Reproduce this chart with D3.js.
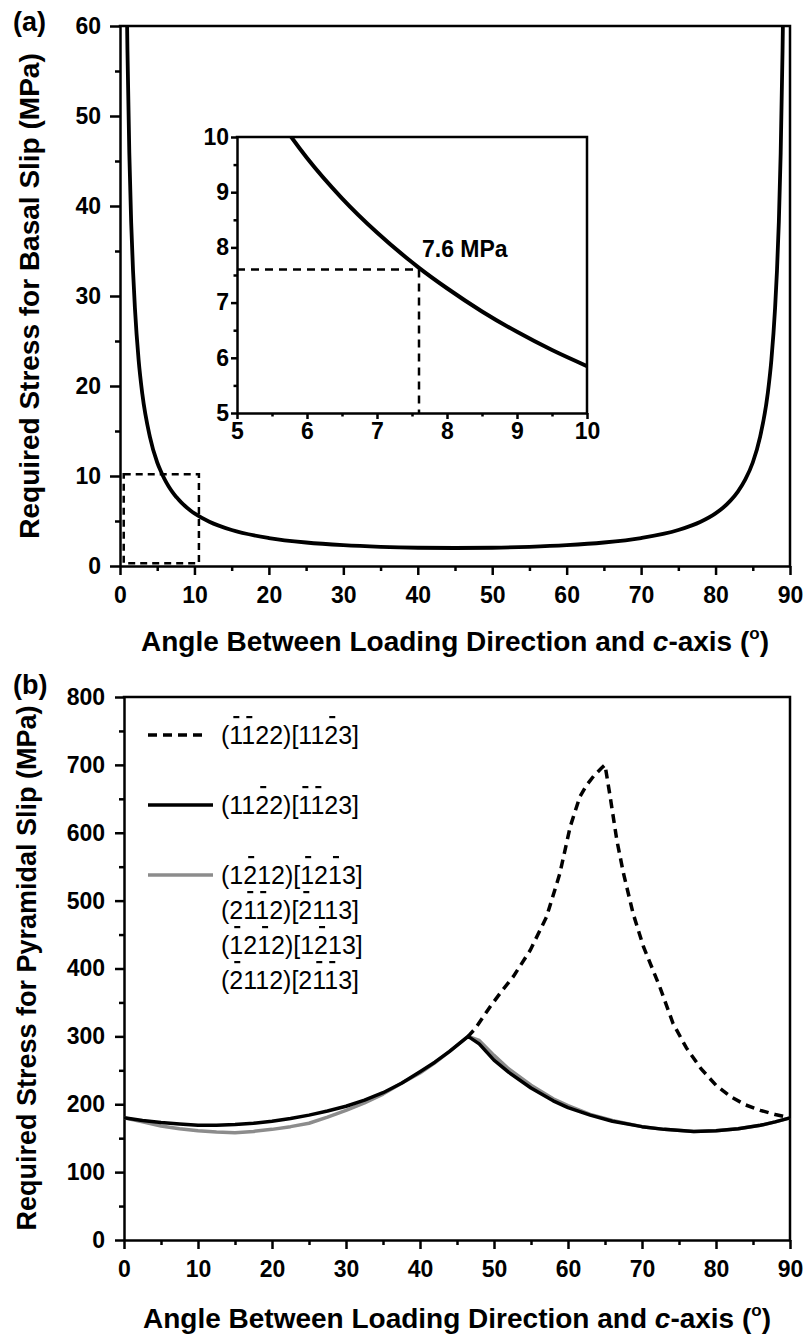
<!DOCTYPE html>
<html><head><meta charset="utf-8">
<script src="https://cdn.jsdelivr.net/npm/d3@7"></script>
<style>
body{margin:0;background:#fff}
svg{display:block;font-family:"Liberation Sans",Arial,Helvetica,sans-serif}
</style></head><body>
<svg id="c" width="806" height="1335"></svg>
<script>
// ---------- data: panel (a) basal slip ----------
const basalAngle = [0.95,1,1.25,1.5,1.75,2,2.5,3,4,5,5.5,6,6.5,7,7.5,7.6,8,8.5,9,9.5,10,12,15,20,25,30,35,40,45,50,55,60,65,70,75,78,80,81,82,83,84,85,86,87,87.5,88,88.25,88.5,88.75,89,89.05];
const basalStress = [60.3,57.3,45.9,38.2,32.8,28.7,22.9,19.1,14.4,11.5,10.5,9.62,8.89,8.27,7.73,7.63,7.26,6.84,6.47,6.14,5.85,4.92,4.00,3.11,2.61,2.31,2.13,2.03,2.00,2.03,2.13,2.31,2.61,3.11,4.00,4.92,5.85,6.47,7.26,8.27,9.62,11.5,14.4,19.1,22.9,28.7,32.8,38.2,45.9,57.3,60.3];
const xTicksA = [0,10,20,30,40,50,60,70,80,90];
const yTicksA = [0,10,20,30,40,50,60];
const insetTicks = [5,6,7,8,9,10];
const markAngle = 7.6, markStress = 7.6;
const markLabel = "7.6 MPa";
const zoomBoxX = [0.5, 10.6], zoomBoxY = [0.3, 10.2];

// ---------- data: panel (b) pyramidal slip ----------
const pyrAngle = [0,2.5,5,7.5,10,12.5,15,17.5,20,22.5,25,27.5,30,32.5,35,37.5,40,42,44,46.5,48,50,52,55,58,60,63,66,70,73,77,80,83,86,88,90];
const pyrBlack = [180,176,173,171,169,169,170,172,175,179,184,190,197,206,217,231,248,262,278,300,289,265,247,224,205,195,184,175,167,163,160,161,164,169,174,180];
const pyrGray  = [180,174,168,164,161,159,158,160,163,167,172,181,191,202,215,231,246,261,278,300,294,272,252,228,208,198,185,176,167,163,160,161,164,169,174,180];
const pyrDashAngle = [46.5,47.5,49.5,51,52.6,54.9,57.1,58.9,60.3,61.6,62.5,63.5,64.5,65,65.7,66.6,67.5,68.8,70.2,72.4,74.2,76,78,80,82,84,86,88,90];
const pyrDash = [300,312,344,366,388,427,476,540,609,653,670,684,695,700,653,589,540,481,432,373,319,283,252,228,211,199,191,185,180];
const xTicksB = [0,10,20,30,40,50,60,70,80,90];
const yTicksB = [0,100,200,300,400,500,600,700,800];
// legend: text + indices of characters carrying an overbar
const legendDash = [{t:"(1122)[1123]", bars:[1,2,9]}];
const legendBlack = [{t:"(1122)[1123]", bars:[3,7,8]}];
const legendGray = [
  {t:"(1212)[1213]", bars:[2,7,9]},
  {t:"(2112)[2113]", bars:[2,3,7]},
  {t:"(1212)[1213]", bars:[1,3,8]},
  {t:"(2112)[2113]", bars:[1,8,9]}
];

const FONT = '"Liberation Sans",Arial,Helvetica,sans-serif';
const TICKFS = 23, TITLEFS = 28;
const svg = d3.select("#c");

function styleAxis(g, fs){
  g.attr("font-family", FONT);
  g.select(".domain").attr("stroke","#000").attr("stroke-width",2.5);
  g.selectAll(".tick line").attr("stroke","#000").attr("stroke-width",2.5);
  g.selectAll(".tick text").attr("font-size",fs).attr("font-weight","bold").attr("fill","#000");
}
function minorAxis(g){
  g.select(".domain").remove();
  g.selectAll(".tick line").attr("stroke","#000").attr("stroke-width",2.5);
}
function frame(x, y){
  const [x0,x1] = x.range(), [y0,y1] = y.range();
  svg.append("path")
    .attr("d", `M${x0},${y1}H${x1}V${y0}`)
    .attr("fill","none").attr("stroke","#000").attr("stroke-width",2.5).attr("stroke-linecap","square");
}
const fmt = d3.format("d");

// ================= Panel (a) =================
const xA = d3.scaleLinear([0,90],[120,790]);
const yA = d3.scaleLinear([0,60],[566,26]);

svg.append("clipPath").attr("id","clipA").append("rect")
  .attr("x",120).attr("y",26).attr("width",670).attr("height",540);

svg.append("g").attr("transform","translate(0,566)")
  .call(d3.axisBottom(xA).tickValues(d3.range(5,90,10)).tickSize(5).tickFormat("")).call(minorAxis);
svg.append("g").attr("transform","translate(120,0)")
  .call(d3.axisLeft(yA).tickValues(d3.range(5,60,10)).tickSize(5).tickFormat("")).call(minorAxis);
svg.append("g").attr("transform","translate(0,566)")
  .call(d3.axisBottom(xA).tickValues(xTicksA).tickFormat(fmt).tickSize(9).tickPadding(12).tickSizeOuter(0)).call(styleAxis,TICKFS);
svg.append("g").attr("transform","translate(120,0)")
  .call(d3.axisLeft(yA).tickValues(yTicksA).tickFormat(fmt).tickSize(10).tickPadding(9).tickSizeOuter(0)).call(styleAxis,TICKFS);
frame(xA, yA);

const basalPts = basalAngle.map((a,i)=>[a,basalStress[i]]);
svg.append("path").datum(basalPts)
  .attr("clip-path","url(#clipA)")
  .attr("d", d3.line().x(d=>xA(d[0])).y(d=>yA(d[1])).curve(d3.curveMonotoneX))
  .attr("fill","none").attr("stroke","#000").attr("stroke-width",3.8);

// dashed zoom box
svg.append("rect")
  .attr("x",xA(zoomBoxX[0])).attr("y",yA(zoomBoxY[1]))
  .attr("width",xA(zoomBoxX[1])-xA(zoomBoxX[0])).attr("height",yA(zoomBoxY[0])-yA(zoomBoxY[1]))
  .attr("fill","none").attr("stroke","#000").attr("stroke-width",2.5).attr("stroke-dasharray","7,5");

// inset
const xI = d3.scaleLinear([5,10],[237,587]);
const yI = d3.scaleLinear([5,10],[413,137]);
svg.append("rect").attr("x",237).attr("y",137).attr("width",350).attr("height",276).attr("fill","#fff");
svg.append("clipPath").attr("id","clipI").append("rect")
  .attr("x",237).attr("y",137).attr("width",350).attr("height",276);
svg.append("g").attr("transform","translate(0,413)")
  .call(d3.axisBottom(xI).tickValues(d3.range(5.5,10,1)).tickSize(3.5).tickFormat("")).call(minorAxis);
svg.append("g").attr("transform","translate(237,0)")
  .call(d3.axisLeft(yI).tickValues(d3.range(5.5,10,1)).tickSize(3.5).tickFormat("")).call(minorAxis);
svg.append("g").attr("transform","translate(0,413)")
  .call(d3.axisBottom(xI).tickValues(insetTicks).tickFormat(fmt).tickSize(6).tickPadding(4).tickSizeOuter(0)).call(styleAxis,TICKFS);
svg.append("g").attr("transform","translate(237,0)")
  .call(d3.axisLeft(yI).tickValues(insetTicks).tickFormat(fmt).tickSize(6).tickPadding(2).tickSizeOuter(0)).call(styleAxis,TICKFS);
frame(xI, yI);
svg.append("path").datum(basalPts)
  .attr("clip-path","url(#clipI)")
  .attr("d", d3.line().x(d=>xI(d[0])).y(d=>yI(d[1])).curve(d3.curveMonotoneX))
  .attr("fill","none").attr("stroke","#000").attr("stroke-width",4);
svg.append("path")
  .attr("d",`M${xI(5)},${yI(markStress)}H${xI(markAngle)}V${yI(5)}`)
  .attr("fill","none").attr("stroke","#000").attr("stroke-width",2.5).attr("stroke-dasharray","8,6");
svg.append("text").attr("x",xI(markAngle)+3).attr("y",yI(markStress)-12)
  .attr("font-size",23).attr("font-weight","bold").text(markLabel);

// titles (a)
svg.append("text").attr("x",13).attr("y",31).attr("font-size",27).attr("font-weight","bold").text("(a)");
function xTitle(cx, y){
  const t = svg.append("text").attr("x",cx).attr("y",y).attr("text-anchor","middle")
    .attr("font-size",TITLEFS).attr("font-weight","bold");
  t.append("tspan").text("Angle Between Loading Direction and ");
  t.append("tspan").attr("font-style","italic").text("c");
  t.append("tspan").text("-axis (");
  t.append("tspan").attr("font-size",17).attr("dy",-12).text("o");
  t.append("tspan").attr("dy",12).text(")");
}
xTitle(455, 651);
svg.append("text").attr("transform",`translate(39,296) rotate(-90)`).attr("text-anchor","middle")
  .attr("font-size",TITLEFS).attr("font-weight","bold").text("Required Stress for Basal Slip (MPa)");

// ================= Panel (b) =================
const xB = d3.scaleLinear([0,90],[124,790]);
const yB = d3.scaleLinear([0,800],[1240,697]);

svg.append("g").attr("transform","translate(0,1240)")
  .call(d3.axisBottom(xB).tickValues(d3.range(5,90,10)).tickSize(5).tickFormat("")).call(minorAxis);
svg.append("g").attr("transform","translate(124,0)")
  .call(d3.axisLeft(yB).tickValues(d3.range(50,800,100)).tickSize(5).tickFormat("")).call(minorAxis);
svg.append("g").attr("transform","translate(0,1240)")
  .call(d3.axisBottom(xB).tickValues(xTicksB).tickFormat(fmt).tickSize(9).tickPadding(12).tickSizeOuter(0)).call(styleAxis,TICKFS);
svg.append("g").attr("transform","translate(124,0)")
  .call(d3.axisLeft(yB).tickValues(yTicksB).tickFormat(fmt).tickSize(9).tickPadding(10).tickSizeOuter(0)).call(styleAxis,TICKFS);
frame(xB, yB);

const lineB = d3.line().x(d=>xB(d[0])).y(d=>yB(d[1]));
svg.append("path").datum(pyrAngle.map((a,i)=>[a,pyrGray[i]]))
  .attr("d",lineB).attr("fill","none").attr("stroke","#8c8c8c").attr("stroke-width",3.5).attr("stroke-linejoin","round");
svg.append("path").datum(pyrAngle.map((a,i)=>[a,pyrBlack[i]]))
  .attr("d",lineB).attr("fill","none").attr("stroke","#000").attr("stroke-width",3.5).attr("stroke-linejoin","round");
svg.append("path").datum(pyrDashAngle.map((a,i)=>[a,pyrDash[i]]))
  .attr("d",lineB).attr("fill","none").attr("stroke","#000").attr("stroke-width",3.5)
  .attr("stroke-dasharray","9,6").attr("stroke-dashoffset",-14);

// legend
function legendText(item, x, y){
  const t = svg.append("text").attr("x",x).attr("y",y).attr("font-size",25).attr("fill","#000").text(item.t);
  const node = t.node();
  item.bars.forEach(i=>{
    const e = node.getExtentOfChar(i);
    const cx = e.x + e.width/2 + 1;
    svg.append("rect").attr("x",cx-3).attr("y",y-28).attr("width",6).attr("height",2.2).attr("fill","#000");
  });
}
svg.append("line").attr("x1",148).attr("x2",203).attr("y1",735).attr("y2",735)
  .attr("stroke","#000").attr("stroke-width",3.5).attr("stroke-dasharray","9,6");
legendDash.forEach(d=>legendText(d,221,744));
svg.append("line").attr("x1",148).attr("x2",213).attr("y1",805).attr("y2",805)
  .attr("stroke","#000").attr("stroke-width",3.5);
legendBlack.forEach(d=>legendText(d,221,814));
svg.append("line").attr("x1",148).attr("x2",213).attr("y1",875).attr("y2",875)
  .attr("stroke","#8c8c8c").attr("stroke-width",3.5);
legendGray.forEach((d,i)=>legendText(d,221,884+i*35));

svg.append("text").attr("x",13).attr("y",694).attr("font-size",27).attr("font-weight","bold").text("(b)");
xTitle(457, 1328);
svg.append("text").attr("transform",`translate(36,968) rotate(-90)`).attr("text-anchor","middle")
  .attr("font-size",27).attr("font-weight","bold").text("Required Stress for Pyramidal Slip (MPa)");
</script>
</body></html>
